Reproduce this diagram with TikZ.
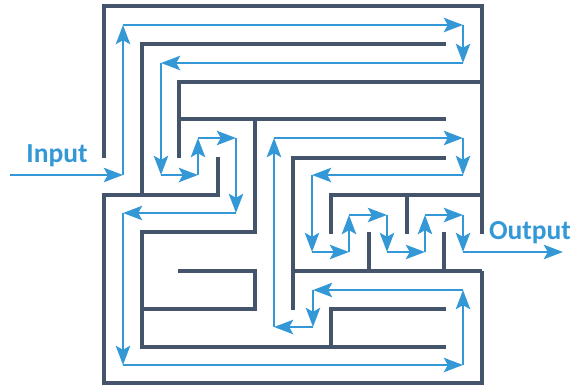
\documentclass[tikz,border=0pt]{standalone}
\usepackage{fontspec}
\setmainfont{Carlito}
\usepackage{tikz}
\usetikzlibrary{arrows.meta}
\definecolor{mazewall}{RGB}{68,84,106}
\definecolor{mazeflow}{RGB}{52,152,215}

\tikzset{
  wall/.style={draw=mazewall,line width=3.6pt},
  flowtip/.tip={Stealth[scale=1.6,inset=2.5pt]},
  flow/.style={draw=mazeflow,line width=2pt,-flowtip},
  lbl/.style={text=mazeflow,font=\fontsize{27.5}{32}\selectfont\bfseries,anchor=base,inner sep=0pt}}

\begin{document}
\begin{tikzpicture}[x=1pt,y=-1pt]
 \useasboundingbox (0,0) rectangle (574,385);
 % walls of the maze
 \draw[wall] (104,158) -- (104,6) -- (482,6) -- (482,234);
 \draw[wall] (218,157) -- (218,195) -- (104,195) -- (104,383) -- (482,383) -- (482,271);
 \draw[wall] (446,44) -- (142,44) -- (142,195);
 \draw[wall] (482,82) -- (179,82) -- (179,158);
 \draw[wall] (446,119) -- (179,119);
 \draw[wall] (255,119) -- (255,232) -- (142,232) -- (142,347) -- (446,347);
 \draw[wall] (142,309) -- (255,309) -- (255,271) -- (178,271);
 \draw[wall] (446,158) -- (293,158) -- (293,310);
 \draw[wall] (331,234) -- (331,195) -- (482,195);
 \draw[wall] (407,195) -- (407,234);
 \draw[wall] (293,271) -- (482,271);
 \draw[wall] (369,232) -- (369,271);
 \draw[wall] (444,232) -- (444,271);
 \draw[wall] (446,309) -- (331,309) -- (331,347);
 % labels
 \draw (57,163) node[lbl] (input) {Input};
 \draw (530,240) node[lbl] (output) {Output};
 % corners of the path
 \coordinate (in) at (10,175);
 \coordinate (c1) at (123,175);
 \coordinate (c2) at (123,25);
 \coordinate (c3) at (463,25);
 \coordinate (c4) at (463,63);
 \coordinate (c5) at (161,63);
 \coordinate (c6) at (161,175);
 \coordinate (c7) at (198,175);
 \coordinate (c8) at (198,138);
 \coordinate (c9) at (236,138);
 \coordinate (c10) at (236,213);
 \coordinate (c11) at (123,213);
 \coordinate (c12) at (123,365);
 \coordinate (c13) at (463,365);
 \coordinate (c14) at (463,290);
 \coordinate (c15) at (313,290);
 \coordinate (c16) at (313,327);
 \coordinate (c17) at (274,327);
 \coordinate (c18) at (274,138);
 \coordinate (c19) at (463,138);
 \coordinate (c20) at (463,175);
 \coordinate (c21) at (312,175);
 \coordinate (c22) at (312,252);
 \coordinate (c23) at (349,252);
 \coordinate (c24) at (349,215);
 \coordinate (c25) at (387,215);
 \coordinate (c26) at (387,252);
 \coordinate (c27) at (425,252);
 \coordinate (c28) at (425,215);
 \coordinate (c29) at (463,215);
 \coordinate (c30) at (463,252);
 \coordinate (out) at (563,252);
 % the path through the maze
     \draw[flow] (in) -- (c1);
     \draw[flow] (c1) -- (c2);
     \draw[flow] (c2) -- (c3);
     \draw[flow] (c3) -- (c4);
     \draw[flow] (c4) -- (c5);
     \draw[flow] (c5) -- (c6);
     \draw[flow] (c6) -- (c7);
     \draw[flow] (c7) -- (c8);
     \draw[flow] (c8) -- (c9);
     \draw[flow] (c9) -- (c10);
     \draw[flow] (c10) -- (c11);
     \draw[flow] (c11) -- (c12);
     \draw[flow] (c12) -- (c13);
     \draw[flow] (c13) -- (c14);
     \draw[flow] (c14) -- (c15);
     \draw[flow] (c15) -- (c16);
     \draw[flow] (c16) -- (c17);
     \draw[flow] (c17) -- (c18);
     \draw[flow] (c18) -- (c19);
     \draw[flow] (c19) -- (c20);
     \draw[flow] (c20) -- (c21);
     \draw[flow] (c21) -- (c22);
     \draw[flow] (c22) -- (c23);
     \draw[flow] (c23) -- (c24);
     \draw[flow] (c24) -- (c25);
     \draw[flow] (c25) -- (c26);
     \draw[flow] (c26) -- (c27);
     \draw[flow] (c27) -- (c28);
     \draw[flow] (c28) -- (c29);
     \draw[flow] (c29) -- (c30);
     \draw[flow] (c30) -- (out);
\end{tikzpicture}
\end{document}
